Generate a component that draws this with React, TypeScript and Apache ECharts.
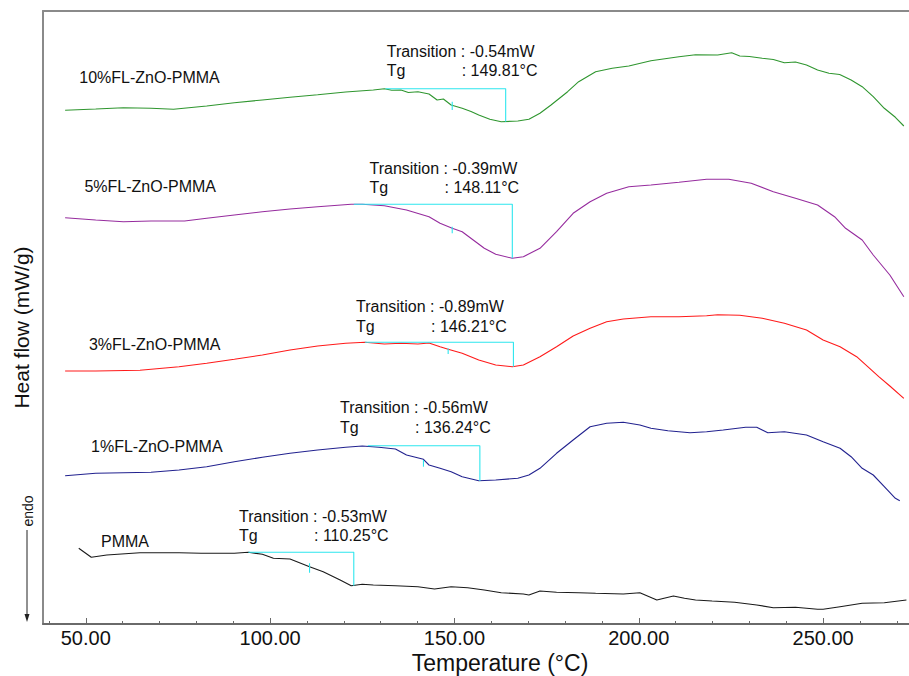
import React, { useEffect, useRef } from "react";
import * as echarts from "echarts";

// x axis (temperature, °C)
const xMin = 38.4;
const xMax = 273.3;
const majorTicks = [50, 100, 150, 200, 250];
const minorTicks = [40, 60, 70, 80, 90, 110, 120, 130, 140, 160, 170, 180, 190, 210, 220, 230, 240, 260, 270];

const sampleNames = ["10%FL-ZnO-PMMA", "5%FL-ZnO-PMMA", "3%FL-ZnO-PMMA", "1%FL-ZnO-PMMA", "PMMA"];
const sampleColors = ["#2f962f", "#962c9e", "#ff1a1a", "#22228f", "#1a1a1a"];
const transitionValues = ["-0.54mW", "-0.39mW", "-0.89mW", "-0.56mW", "-0.53mW"];
const tgValues = ["149.81", "148.11", "146.21", "136.24", "110.25"];

// heat flow traces (offset, arbitrary units), [temperature, value]
const curve10 = [
  [44.4, 513.7], [52.7, 515], [60.2, 516.3], [67.7, 515.7], [73.8, 514.7], [82.8, 518], [90.3, 521.3],
  [97.9, 524], [105.4, 526.7], [112.9, 529.3], [120.5, 532], [128.0, 534], [131.0, 535.3], [133.0, 533.8], [135.5, 534],
  [137.5, 531.5], [140.1, 532.3], [143.1, 530], [145.3, 524], [147.0, 525], [149.1, 519], [152.1, 515.7], [154.5, 512.5], [156.6, 509], [159.6, 504.7],
  [162.7, 502.3], [167.2, 503], [170.2, 504.7], [173.2, 510.7], [176.2, 519], [180.7, 532.3], [183.7, 542.3],
  [188.3, 552.3], [192.8, 555.7], [197.3, 558], [203.3, 563.3], [210.9, 567.3], [215.4, 569.3], [221.4, 569],
  [225.2, 571.3], [227.4, 568], [230.0, 567.5], [233.5, 565.7], [236.5, 564.5], [239.5, 561.3], [242.5, 562], [245.5, 559], [248.5, 554], [251.6, 550.7],
  [254.5, 549.5], [257.6, 544], [260.6, 537.3], [263.6, 527.3], [266.6, 515.7], [269.6, 506.7], [271.9, 498],
];
const curve5 = [
  [44.4, 406.3], [52.7, 404], [60.2, 402.3], [67.7, 403], [76.8, 403], [82.8, 405.7], [90.3, 409],
  [97.9, 412.3], [105.4, 415], [112.9, 417.3], [122.0, 419.7], [125.0, 419.7], [131.0, 418.3], [137.0, 414],
  [143.1, 407.3], [146.1, 400.7], [149.4, 395.7], [152.1, 392.3], [155.1, 384], [158.1, 375.7], [161.2, 369.7],
  [165.7, 365.7], [168.7, 367.3], [173.2, 375.7], [177.7, 392.3], [182.2, 410.7], [186.8, 422.3], [191.3, 430.7],
  [197.3, 437.3], [203.3, 439], [210.9, 441.7], [218.4, 444.7], [224.4, 444.7], [230.5, 440.7], [236.5, 432.3],
  [242.5, 425.7], [248.5, 419], [253.1, 407.3], [256.1, 395.7], [260.6, 384], [263.6, 369], [268.1, 349],
  [271.9, 327.3],
];
const curve3 = [
  [44.4, 253], [52.7, 253], [64.7, 253.7], [75.3, 257.3], [82.8, 260.7], [90.3, 264.7], [97.9, 269],
  [105.4, 274], [112.9, 278], [120.5, 280.7], [125.7, 281.7], [131.0, 280], [135.5, 280.7], [140.1, 280],
  [143.1, 281], [146.1, 277.3], [148.3, 274.7], [152.1, 270.7], [156.6, 264], [161.2, 259], [165.7, 257.3],
  [168.7, 259], [173.2, 267.3], [177.7, 277.3], [182.2, 288], [186.8, 295.7], [191.3, 302.3], [195.8, 305],
  [203.3, 307.3], [210.9, 307.3], [218.4, 308.3], [221.4, 309.3], [227.4, 308.7], [233.5, 305.7], [239.5, 300.7],
  [245.5, 294], [250.0, 284], [254.6, 277.3], [259.1, 267.3], [262.1, 257.3], [265.1, 247.3], [268.1, 238],
  [271.9, 225.7],
];
const curve1 = [
  [44.4, 148.3], [52.7, 150.7], [60.2, 151.3], [67.7, 151.7], [75.3, 154], [82.8, 157.3], [90.3, 162.3],
  [97.9, 166.7], [105.4, 170.7], [112.9, 174], [120.5, 176.7], [125.0, 178], [129.5, 176.7], [134.0, 175],
  [137.0, 169], [141.6, 164.7], [143.1, 159], [146.1, 155.7], [149.1, 152.3], [152.1, 147.3], [156.6, 143.3],
  [161.2, 144], [167.2, 145.7], [170.2, 149], [173.2, 155.7], [177.7, 170.7], [182.2, 184], [186.8, 197.3],
  [191.3, 200.7], [195.8, 201.7], [200.3, 199], [203.3, 195.7], [207.9, 193.3], [213.9, 191.3], [218.4, 192.3],
  [222.9, 194], [229.0, 196.7], [232.0, 196.7], [235.0, 191.3], [239.5, 192.3], [245.5, 189], [250.0, 182.3],
  [254.6, 175.7], [257.6, 167.3], [260.6, 155.7], [263.6, 149], [266.6, 137.3], [269.6, 125.7], [270.8, 123.3],
];
const curvePMMA = [
  [48.1, 75.7], [51.5, 66.7], [55.7, 69], [64.7, 71.3], [75.3, 71.3], [81.3, 70.7], [90.3, 70.7],
  [94.1, 71.7], [97.9, 69.7], [100.9, 65.7], [105.4, 65], [110.7, 57.3], [114.4, 52.3], [119.0, 44],
  [122.0, 38.3], [125.0, 39.7], [128.0, 39], [134.0, 38.3], [140.1, 37.3], [144.6, 35], [149.1, 37.3],
  [153.6, 36.3], [158.1, 34], [162.7, 31.3], [168.7, 30], [170.2, 29], [173.2, 33], [177.7, 31.7],
  [183.7, 31.3], [188.3, 30.7], [195.8, 30], [200.3, 31.3], [204.9, 24], [209.4, 28], [212.4, 25.7],
  [215.4, 24], [219.9, 23], [226.0, 21.7], [232.0, 19], [236.5, 16.3], [242.5, 16.7], [248.5, 14.7],
  [250.0, 14.7], [254.6, 17.3], [260.6, 20.7], [266.6, 21.3], [272.6, 24],
];
const curves = [curve10, curve5, curve3, curve1, curvePMMA];

// glass transition construction lines
const tgOnset = [131.3, 122.7, 125.7, 126.5, 94.1];
const tgEnd = [163.9, 165.7, 166.0, 156.9, 122.7];
const tgUpper = [535.3, 419.7, 281.7, 178.3, 71.7];
const tgLower = [502.3, 365.7, 257.3, 143.0, 38.3];
const tgMarkT = [149.4, 149.4, 148.3, 141.6, 110.7];
const tgMarkTop = [522.3, 397.3, 275.7, 164.0, 60.7];
const tgMarkBottom = [514.0, 390.7, 270.0, 157.3, 51.3];

// text layout (pixels)
const nameX = [79.3, 84.4, 88.9, 91, 101];
const nameBase = [82.7, 191.7, 350.5, 451.7, 546.7];
const annX = [386.7, 369.5, 356, 340, 239];
const annBase = [56.7, 174, 312.4, 413.4, 521.7];

const FONT = "Arial, 'Liberation Sans', sans-serif";

export default function App() {
  const ref = useRef<HTMLDivElement>(null);
  useEffect(() => {
    if (!ref.current) return;
    const chart = echarts.init(ref.current, null, { renderer: "svg" });
    const series: any[] = [];
    curves.forEach((c, i) => {
      series.push({
        type: "line",
        name: sampleNames[i],
        data: c,
        showSymbol: false,
        symbol: "none",
        lineStyle: { color: sampleColors[i], width: 1.1 },
        z: 2,
      });
      series.push({
        type: "line",
        data: [
          [tgOnset[i], tgUpper[i]],
          [tgEnd[i], tgUpper[i]],
          [tgEnd[i], tgLower[i]],
        ],
        showSymbol: false,
        symbol: "none",
        lineStyle: { color: "#2ee6ee", width: 1.1 },
        z: 3,
      });
      series.push({
        type: "line",
        data: [
          [tgMarkT[i], tgMarkTop[i]],
          [tgMarkT[i], tgMarkBottom[i]],
        ],
        showSymbol: false,
        symbol: "none",
        lineStyle: { color: "#2ee6ee", width: 1.1 },
        z: 3,
      });
    });

    const graphics: any[] = [];
    sampleNames.forEach((n, i) => {
      graphics.push({
        type: "text",
        x: nameX[i],
        y: nameBase[i] - 5.7,
        style: { text: n, fill: "#111", font: `16px ${FONT}`, align: "left", verticalAlign: "middle" },
      });
      graphics.push({
        type: "text",
        x: annX[i],
        y: annBase[i] - 5.7,
        style: { text: `Transition : ${transitionValues[i]}`, fill: "#111", font: `16px ${FONT}`, align: "left", verticalAlign: "middle" },
      });
      graphics.push({
        type: "text",
        x: annX[i],
        y: annBase[i] + 19.3 - 5.7,
        style: { text: "Tg", fill: "#111", font: `16px ${FONT}`, align: "left", verticalAlign: "middle" },
      });
      graphics.push({
        type: "text",
        x: annX[i] + 75,
        y: annBase[i] + 19.3 - 5.7,
        style: { text: `: ${tgValues[i]}°C`, fill: "#111", font: `16px ${FONT}`, align: "left", verticalAlign: "middle" },
      });
    });
    graphics.push({
      type: "text",
      x: 21,
      y: 327.5,
      rotation: Math.PI / 2,
      style: { text: "Heat flow (mW/g)", fill: "#111", font: `21px ${FONT}`, align: "center", verticalAlign: "middle" },
    });
    graphics.push({
      type: "text",
      x: 500,
      y: 663,
      style: { text: "Temperature (°C)", fill: "#111", font: `23px ${FONT}`, align: "center", verticalAlign: "middle" },
    });
    graphics.push({
      type: "text",
      x: 28,
      y: 511,
      rotation: Math.PI / 2,
      style: { text: "endo", fill: "#111", font: `14px ${FONT}`, align: "center", verticalAlign: "middle" },
    });
    graphics.push({
      type: "line",
      shape: { x1: 27, y1: 530, x2: 27, y2: 616 },
      style: { stroke: "#222", lineWidth: 1 },
    });
    graphics.push({
      type: "polygon",
      shape: { points: [[24.5, 614], [29.5, 614], [27, 622]] },
      style: { fill: "#222" },
    });

    chart.setOption({
      animation: false,
      backgroundColor: "#ffffff",
      grid: { left: 43, right: 0, top: 11, bottom: 52, containLabel: false },
      xAxis: [
        {
          type: "value",
          min: xMin,
          max: xMax,
          position: "bottom",
          axisLine: { show: true, lineStyle: { color: "#6a6a6a", width: 2 } },
          axisTick: { show: true, inside: true, length: 6, customValues: majorTicks, lineStyle: { color: "#6a6a6a", width: 1 } },
          axisLabel: {
            show: true,
            customValues: majorTicks,
            formatter: (v: number) => v.toFixed(2),
            color: "#111",
            fontFamily: FONT,
            fontSize: 20,
            margin: 4,
          },
          splitLine: { show: false },
        },
        {
          type: "value",
          min: xMin,
          max: xMax,
          position: "bottom",
          axisLine: { show: false },
          axisTick: { show: true, inside: true, length: 3, customValues: minorTicks, lineStyle: { color: "#6a6a6a", width: 1 } },
          axisLabel: { show: false },
          splitLine: { show: false },
        },
        {
          type: "value",
          min: xMin,
          max: xMax,
          position: "top",
          axisLine: { show: true, lineStyle: { color: "#8a8a8a", width: 2 } },
          axisTick: { show: false },
          axisLabel: { show: false },
          splitLine: { show: false },
        },
      ],
      yAxis: {
        type: "value",
        min: 0,
        max: 613,
        axisLine: { show: true, lineStyle: { color: "#8a8a8a", width: 2 } },
        axisTick: { show: false },
        axisLabel: { show: false },
        splitLine: { show: false },
      },
      series,
      graphic: graphics,
    });
    return () => chart.dispose();
  }, []);
  return (
    <div
      ref={ref}
      style={{ position: "fixed", left: 0, top: 0, width: 909, height: 676, background: "#fff" }}
    />
  );
}
